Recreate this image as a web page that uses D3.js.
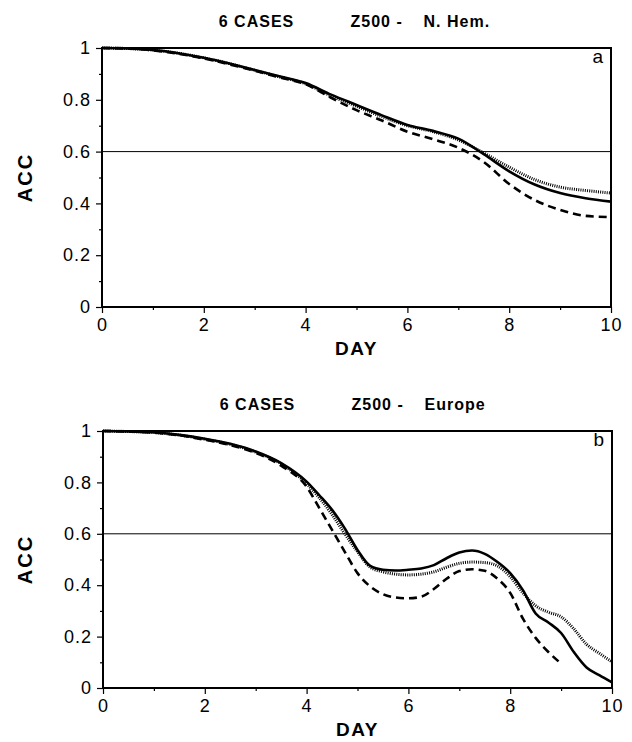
<!DOCTYPE html>
<html>
<head>
<meta charset="utf-8">
<script src="https://cdn.jsdelivr.net/npm/d3@7"></script>
<style>
  body { margin: 0; background: #fff; }
  svg text { font-family: "Liberation Sans", Arial, sans-serif; fill: #000; }
</style>
</head>
<body>
<div id="vis"></div>
<script>
const WIDTH = 632;
const HEIGHT = 742;

// datos (ACC vs dia)
const diasA = [0, 0.5, 1, 1.5, 2, 2.5, 3, 3.5, 4, 4.5, 5, 5.5, 6, 6.5, 7, 7.5, 8, 8.5, 9, 9.5, 10];
const solidaA = [1, .998, .992, .98, .962, .94, .915, .89, .865, .82, .78, .74, .703, .68, .65, .59, .524, .473, .44, .42, .407];
const punteadaA = [1, .998, .992, .98, .962, .94, .914, .888, .862, .815, .775, .735, .70, .677, .645, .595, .54, .492, .463, .45, .44];
const guionesA = [1, .998, .991, .978, .96, .937, .912, .886, .86, .808, .76, .72, .677, .648, .615, .56, .475, .413, .375, .352, .347];

const diasB = [0, 0.5, 1, 1.5, 2, 2.5, 3, 3.5, 4, 4.25, 4.5, 4.75, 5, 5.25, 5.5, 5.75, 6, 6.25, 6.5, 6.75,
  7, 7.25, 7.5, 7.75, 8, 8.25, 8.5, 8.75, 9, 9.25, 9.5, 9.75, 10];
const solidaB = [1, .998, .995, .985, .97, .95, .92, .875, .803, .75, .693, .621, .537, .475, .46, .457, .46, .465, .478, .505,
  .527, .535, .522, .49, .447, .381, .29, .255, .214, .14, .08, .05, .022];
const punteadaB = [1, .998, .994, .984, .968, .948, .918, .872, .795, .74, .675, .60, .53, .47, .452, .443, .44, .443, .452, .47,
  .485, .49, .488, .475, .433, .37, .32, .295, .277, .23, .17, .135, .102];
const guionesB = [1, .998, .994, .983, .966, .945, .915, .865, .783, .70, .615, .53, .447, .395, .365, .352, .349, .355, .385, .425,
  .455, .462, .456, .425, .37, .27, .195, .14, .095];

const ticksX = [0, 2, 4, 6, 8, 10];
const ticksXMenor = [1, 3, 5, 7, 9];
const ticksY = [0, 0.2, 0.4, 0.6, 0.8, 1];
const ticksYMenor = [0.1, 0.3, 0.5, 0.7, 0.9];
const umbral = 0.6;

const paneles = [
  { titulo1: "6 CASES", titulo2: "Z500 -", titulo3: "N. Hem.", letra: "a",
    dias: diasA, solida: solidaA, punteada: punteadaA, guiones: guionesA,
    left: 102, right: 611, top: 48, bottom: 307 },
  { titulo1: "6 CASES", titulo2: "Z500 -", titulo3: "Europe", letra: "b",
    dias: diasB, solida: solidaB, punteada: punteadaB, guiones: guionesB,
    left: 103, right: 612, top: 431, bottom: 688 }
];

const SVG = d3.select("#vis").append("svg")
  .attr("width", WIDTH).attr("height", HEIGHT);

paneles.forEach((p) => {
  const x = d3.scaleLinear().domain([0, 10]).range([p.left, p.right]);
  const y = d3.scaleLinear().domain([0, 1]).range([p.bottom, p.top]);
  const G = SVG.append("g");

  // titulo
  const cx = (p.left + p.right) / 2;
  const tituloY = p.top - 21;
  G.append("text").attr("x", cx - 100).attr("y", tituloY).attr("text-anchor", "middle")
    .style("font-size", "16px").style("font-weight", "bold").style("letter-spacing", "1px")
    .text(p.titulo1);
  G.append("text").attr("x", cx - 6).attr("y", tituloY)
    .style("font-size", "16px").style("font-weight", "bold").style("letter-spacing", "1px")
    .text(p.titulo2);
  G.append("text").attr("x", cx + 67).attr("y", tituloY)
    .style("font-size", "16px").style("font-weight", "bold").style("letter-spacing", "1px")
    .text(p.titulo3);

  // linea de referencia 0.6
  G.append("line")
    .attr("x1", x(0)).attr("x2", x(10))
    .attr("y1", y(umbral)).attr("y2", y(umbral))
    .attr("stroke", "#000").attr("stroke-width", 1);

  const linea = (serie) => d3.line()
    .x((d, i) => x(p.dias[i]))
    .y((d) => y(d))
    .curve(d3.curveMonotoneX)(serie);

  G.append("path").attr("d", linea(p.punteada))
    .attr("fill", "none").attr("stroke", "#000").attr("stroke-width", 3)
    .attr("stroke-dasharray", "1,1.2");
  G.append("path").attr("d", linea(p.guiones))
    .attr("fill", "none").attr("stroke", "#000").attr("stroke-width", 2.6)
    .attr("stroke-dasharray", "8,5");
  G.append("path").attr("d", linea(p.solida))
    .attr("fill", "none").attr("stroke", "#000").attr("stroke-width", 2.6);

  // ejes
  G.append("g").attr("transform", `translate(${p.left},0)`)
    .call(d3.axisLeft(y).tickValues(ticksY).tickSize(6).tickPadding(5).tickFormat((d) => String(d)));
  G.append("g").attr("transform", `translate(${p.left},0)`)
    .call(d3.axisLeft(y).tickValues(ticksYMenor).tickSize(3).tickFormat(""));
  G.append("g").attr("transform", `translate(0,${p.bottom})`)
    .call(d3.axisBottom(x).tickValues(ticksX).tickSize(6).tickPadding(5).tickFormat((d) => String(d)));
  G.append("g").attr("transform", `translate(0,${p.bottom})`)
    .call(d3.axisBottom(x).tickValues(ticksXMenor).tickSize(3).tickFormat(""));

  G.selectAll(".domain").remove();
  G.selectAll(".tick line").attr("stroke", "#000").attr("stroke-width", 1.2);
  G.selectAll(".tick text")
    .style("font-size", "18px").style("letter-spacing", "1px")
    .style("font-family", "'Liberation Sans', Arial, sans-serif");

  // marco
  G.append("rect")
    .attr("x", p.left).attr("y", p.top)
    .attr("width", p.right - p.left).attr("height", p.bottom - p.top)
    .attr("fill", "none").attr("stroke", "#000").attr("stroke-width", 2);

  // letra del panel
  G.append("text").attr("x", p.right - 8).attr("y", p.top + 15)
    .attr("text-anchor", "end").style("font-size", "19px").text(p.letra);

  // etiquetas
  G.append("text").attr("x", cx).attr("y", p.bottom + 48).attr("text-anchor", "middle")
    .style("font-size", "19px").style("font-weight", "bold").style("letter-spacing", "1.5px")
    .text("DAY");
  G.append("text")
    .attr("transform", `translate(32,${(p.top + p.bottom) / 2}) rotate(-90)`)
    .attr("text-anchor", "middle")
    .style("font-size", "20px").style("font-weight", "bold").style("letter-spacing", "2px")
    .text("ACC");
});
</script>
</body>
</html>
